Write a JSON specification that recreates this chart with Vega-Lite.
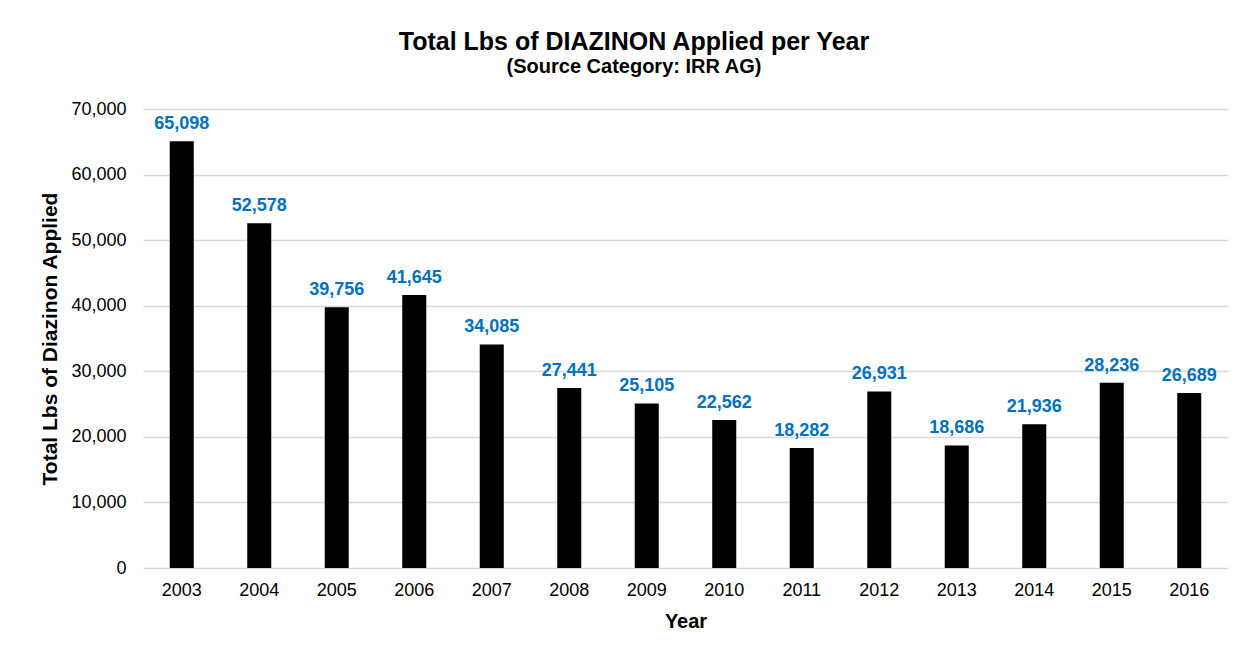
{
  "$schema": "https://vega.github.io/schema/vega-lite/v6.json",
  "autosize": {"type": "none"},
  "width": 1085,
  "height": 459,
  "padding": {"left": 143, "top": 109, "right": 22, "bottom": 88},
  "background": "white",
  "config": {
    "font": "Liberation Sans",
    "view": {"stroke": null}
  },
  "title": {
    "text": "Total Lbs of DIAZINON  Applied per Year",
    "subtitle": "(Source Category: IRR AG)",
    "fontSize": 25,
    "fontWeight": "bold",
    "subtitleFontSize": 20,
    "subtitleFontWeight": "bold",
    "subtitleColor": "black",
    "color": "black",
    "subtitlePadding": 2,
    "anchor": "middle",
    "frame": "bounds",
    "offset": 23
  },
  "data": {
    "values": [
      {"Year": "2003", "Lbs": 65098},
      {"Year": "2004", "Lbs": 52578},
      {"Year": "2005", "Lbs": 39756},
      {"Year": "2006", "Lbs": 41645},
      {"Year": "2007", "Lbs": 34085},
      {"Year": "2008", "Lbs": 27441},
      {"Year": "2009", "Lbs": 25105},
      {"Year": "2010", "Lbs": 22562},
      {"Year": "2011", "Lbs": 18282},
      {"Year": "2012", "Lbs": 26931},
      {"Year": "2013", "Lbs": 18686},
      {"Year": "2014", "Lbs": 21936},
      {"Year": "2015", "Lbs": 28236},
      {"Year": "2016", "Lbs": 26689}
    ]
  },
  "encoding": {
    "x": {
      "field": "Year",
      "type": "ordinal",
      "scale": {"paddingInner": 0.69, "paddingOuter": 0.345},
      "axis": {
        "title": "Year",
        "labelAngle": 0,
        "labelFontSize": 18,
        "labelColor": "black",
        "labelPadding": 13,
        "domain": false,
        "ticks": false,
        "titleFontSize": 20,
        "titleFontWeight": "bold",
        "titleColor": "black",
        "titlePadding": 12
      }
    },
    "y": {
      "field": "Lbs",
      "type": "quantitative",
      "scale": {"domain": [0, 70000], "nice": false},
      "axis": {
        "title": "Total Lbs of Diazinon Applied",
        "values": [0, 10000, 20000, 30000, 40000, 50000, 60000, 70000],
        "format": ",.0f",
        "labelFontSize": 18,
        "labelColor": "black",
        "labelPadding": 17,
        "domain": false,
        "ticks": false,
        "grid": true,
        "gridColor": "#d9d9d9",
        "gridWidth": 1.5,
        "titleFontSize": 21,
        "titleFontWeight": "bold",
        "titleColor": "black",
        "titlePadding": 10
      }
    }
  },
  "layer": [
    {"mark": {"type": "bar", "color": "black"}},
    {
      "mark": {
        "type": "text",
        "baseline": "alphabetic",
        "dy": -12,
        "fontSize": 18,
        "fontWeight": "bold",
        "color": "#0070C0"
      },
      "encoding": {"text": {"field": "Lbs", "type": "quantitative", "format": ","}}
    }
  ]
}
